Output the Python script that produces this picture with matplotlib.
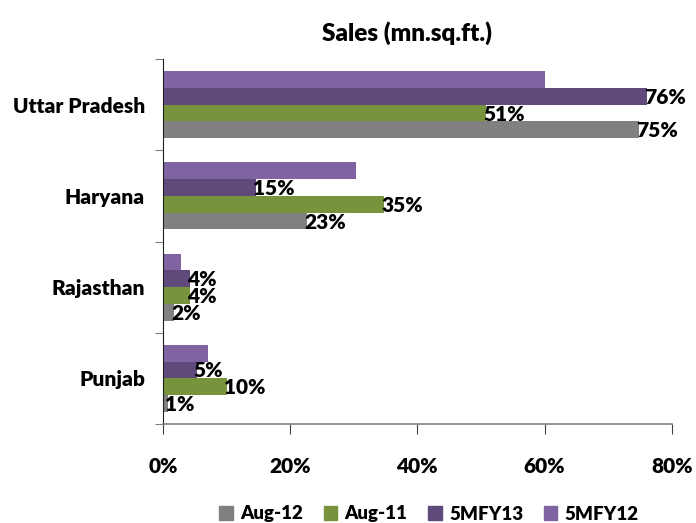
import numpy as np
import matplotlib
matplotlib.use("Agg")
import matplotlib.pyplot as plt
from matplotlib.patches import Patch

plt.rcParams['font.family'] = ['Lato', 'DejaVu Sans']

# data (bottom to top on the chart)
states = ['Punjab', 'Rajasthan', 'Haryana', 'Uttar Pradesh']
aug12 = [0.8, 1.8, 22.7, 74.9]
aug11 = [10.0, 4.3, 34.8, 50.8]
fy13 = [5.3, 4.3, 14.7, 76.1]
fy12 = [7.1, 2.9, 30.3, 60.1]
lbl_aug12 = ['1%', '2%', '23%', '75%']
lbl_aug11 = ['10%', '4%', '35%', '51%']
lbl_fy13 = ['5%', '4%', '15%', '76%']

series = ['Aug-12', 'Aug-11', '5MFY13', '5MFY12']
colors = ['#808080', '#77933C', '#604A7B', '#8064A2']

fig = plt.figure(figsize=(6.96, 5.23), dpi=100)
ax = fig.add_axes([163/696, 1-424/523, (671.7-163)/696, (424-59)/523])

y = np.arange(len(states))
h = 0.184
vals = [aug12, aug11, fy13, fy12]
labels = [lbl_aug12, lbl_aug11, lbl_fy13, None]
fs = 15
fw = 'heavy'

for i, (v, c, lb) in enumerate(zip(vals, colors, labels)):
    pos = y + (i - 1.5) * h
    ax.barh(pos, np.array(v) / 100, height=h, color=c, zorder=2)
    if lb is not None:
        for p, val, t in zip(pos, v, lb):
            ax.annotate(t, (val / 100, p), xytext=(-3, -1), textcoords='offset pixels',
                        ha='left', va='center', fontsize=fs, fontweight=fw, zorder=3)

ax.set_xlim(0, 0.8)
ax.set_ylim(-0.5, 3.5)
ax.set_xticks([0, 0.2, 0.4, 0.6, 0.8])
ax.set_xticklabels(['0%', '20%', '40%', '60%', '80%'], fontsize=fs, fontweight=fw)
ax.tick_params(axis='x', direction='out', length=7, color='#404040', pad=17)

ax.set_yticks([-0.5, 0.5, 1.5, 2.5, 3.5])
ax.set_yticklabels([])
ax.set_yticks(y, minor=True)
ax.set_yticklabels(states, minor=True, fontsize=fs, fontweight=fw)
ax.tick_params(axis='y', which='major', direction='out', length=6, color='#808080')
ax.tick_params(axis='y', which='minor', length=0, pad=13)

ax.spines['top'].set_visible(False)
ax.spines['right'].set_visible(False)
ax.spines['left'].set_color('#202020')
ax.spines['bottom'].set_color('#808080')
ax.spines['bottom'].set_linewidth(1.2)

fig.text(407/696, 1-33/523, 'Sales (mn.sq.ft.)', ha='center', va='center',
         fontsize=17.5, fontweight=fw)

handles = [Patch(color=c, label=s) for s, c in zip(series, colors)]
fig.legend(handles=handles, loc='center', bbox_to_anchor=(429/696, 1-514/523), ncol=4,
           prop={'size': 13.5, 'weight': fw}, frameon=False,
           handlelength=0.72, handleheight=0.72,
           handletextpad=0.4, columnspacing=1.1, borderpad=0, borderaxespad=0)

fig.savefig('out.png', dpi=100)
